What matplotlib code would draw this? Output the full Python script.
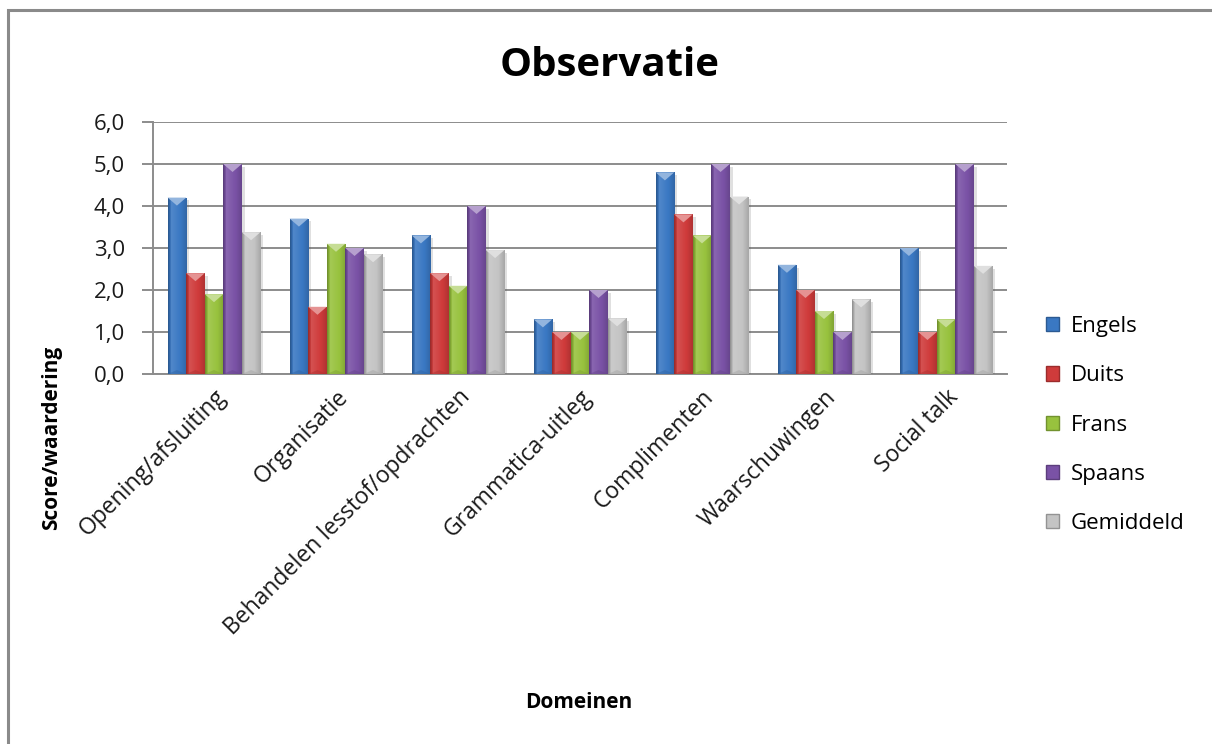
import matplotlib
matplotlib.use("Agg")
import matplotlib.pyplot as plt
import numpy as np
from matplotlib import patheffects
from matplotlib.patches import Rectangle, Polygon, Patch
from matplotlib.colors import to_rgb

categories = ["Opening/afsluiting", "Organisatie", "Behandelen lesstof/opdrachten",
              "Grammatica-uitleg", "Complimenten", "Waarschuwingen", "Social talk"]
series_names = ["Engels", "Duits", "Frans", "Spaans", "Gemiddeld"]
engels = [4.2, 3.7, 3.3, 1.3, 4.8, 2.6, 3.0]
duits = [2.4, 1.6, 2.4, 1.0, 3.8, 2.0, 1.0]
frans = [1.9, 3.1, 2.1, 1.0, 3.3, 1.5, 1.3]
spaans = [5.0, 3.0, 4.0, 2.0, 5.0, 1.0, 5.0]
gemiddeld = [3.375, 2.85, 2.95, 1.325, 4.225, 1.775, 2.575]
y_ticks = [0.0, 1.0, 2.0, 3.0, 4.0, 5.0, 6.0]
colors = ["#3a78c3", "#cf3b3b", "#98c23e", "#7a52a6", "#c4c4c4"]

plt.rcParams['font.family'] = ['Open Sans', 'DejaVu Sans']

W, H = 1212, 744
fig = plt.figure(figsize=(W / 100, H / 100), dpi=100)
fig.patch.set_facecolor("white")

# outer chart frame
fig.add_artist(Rectangle((8 / W, -0.05), 1.2, (H - 10) / H + 0.05, transform=fig.transFigure,
                         fill=False, edgecolor="#8a8a8a", lw=2.2))

ax = fig.add_axes([153 / W, (H - 374) / H, (1007 - 153) / W, (374 - 122) / H])
ax.set_xlim(-0.5, len(categories) - 0.5)
ax.set_ylim(0, 6)
ax.set_axisbelow(True)
ax.yaxis.grid(True, color="#8c8c8c", lw=1.4)
for s in ["top", "right"]:
    ax.spines[s].set_visible(False)
ax.spines["left"].set_color("#8c8c8c")
ax.spines["bottom"].set_color("#8c8c8c")
ax.spines["left"].set_linewidth(1.4)
ax.spines["bottom"].set_linewidth(1.4)

ax.set_yticks(y_ticks)
ax.set_yticklabels([f"{v:.1f}".replace(".", ",") for v in y_ticks], fontsize=16, color="#1a1a1a")
ax.tick_params(axis="y", length=8, width=1.4, color="#8c8c8c", pad=12)
ax.set_xticks(range(len(categories)))
ax.set_xticklabels(categories, rotation=45, ha="right", rotation_mode="anchor",
                   fontsize=16.5, color="#1a1a1a")
ax.tick_params(axis="x", length=0, pad=8)

# pixel-to-data scale for the bevel caps
px_per_unit_y = (374 - 122) / 6.0

def shade(c, f):
    c = np.array(to_rgb(c))
    if f < 1:
        return c * f
    return c + (1 - c) * (f - 1)

data = [engels, duits, frans, spaans, gemiddeld]
w = 0.152
profile = np.concatenate([np.linspace(0.72, 0.95, 6), np.linspace(1.12, 1.0, 20),
                          np.linspace(1.0, 0.85, 14)])
for j, (vals, col) in enumerate(zip(data, colors)):
    xs = np.arange(len(categories)) + (j - 2) * w
    bars = ax.bar(xs, vals, width=w, color=col, edgecolor="none", zorder=3)
    grad = np.array([[np.clip(shade(col, f), 0, 1) for f in profile]])
    for b, x, v in zip(bars, xs, vals):
        b.set_path_effects([patheffects.SimplePatchShadow(offset=(2, -2), alpha=0.18,
                                                           shadow_rgbFace="#555555"),
                            patheffects.Normal()])
        im = ax.imshow(grad, extent=(x - w / 2, x + w / 2, 0, v), aspect="auto",
                       zorder=3.1, interpolation="bilinear")
        im.set_clip_path(b)
        d = 8 / px_per_unit_y
        cap = Polygon([(x - w / 2, v), (x + w / 2, v), (x, v - d)], closed=True,
                      facecolor=np.clip(shade(col, 1.45), 0, 1), edgecolor="none", zorder=3.2)
        ax.add_patch(cap)
        base = Polygon([(x - w / 2, 0), (x + w / 2, 0), (x, 4 / px_per_unit_y)], closed=True,
                       facecolor=np.clip(shade(col, 0.85), 0, 1), edgecolor="none", zorder=3.2,
                       alpha=0.5)
        ax.add_patch(base)

ax.set_xlim(-0.5, len(categories) - 0.5)
ax.set_ylim(0, 6)

handles = [Patch(facecolor=c, edgecolor=np.clip(shade(c, 0.75), 0, 1)) for c in colors]
fig.legend(handles, series_names, loc="upper left", bbox_to_anchor=(1035 / W, 1 - 305 / H),
           frameon=False, fontsize=16, handlelength=0.6, handleheight=0.6,
           handletextpad=0.5, labelspacing=1.27, borderpad=0)

fig.text(610 / W, 1 - 65 / H, "Observatie", ha="center", va="center", fontsize=29,
         fontweight="bold", color="black")
fig.text(579 / W, 1 - 703 / H, "Domeinen", ha="center", va="center", fontsize=15,
         fontweight="bold", color="black")
fig.text(52 / W, 1 - 438 / H, "Score/waardering", ha="center", va="center", fontsize=15,
         fontweight="bold", color="black", rotation=90)

fig.savefig("out.png", dpi=100, facecolor="white")
